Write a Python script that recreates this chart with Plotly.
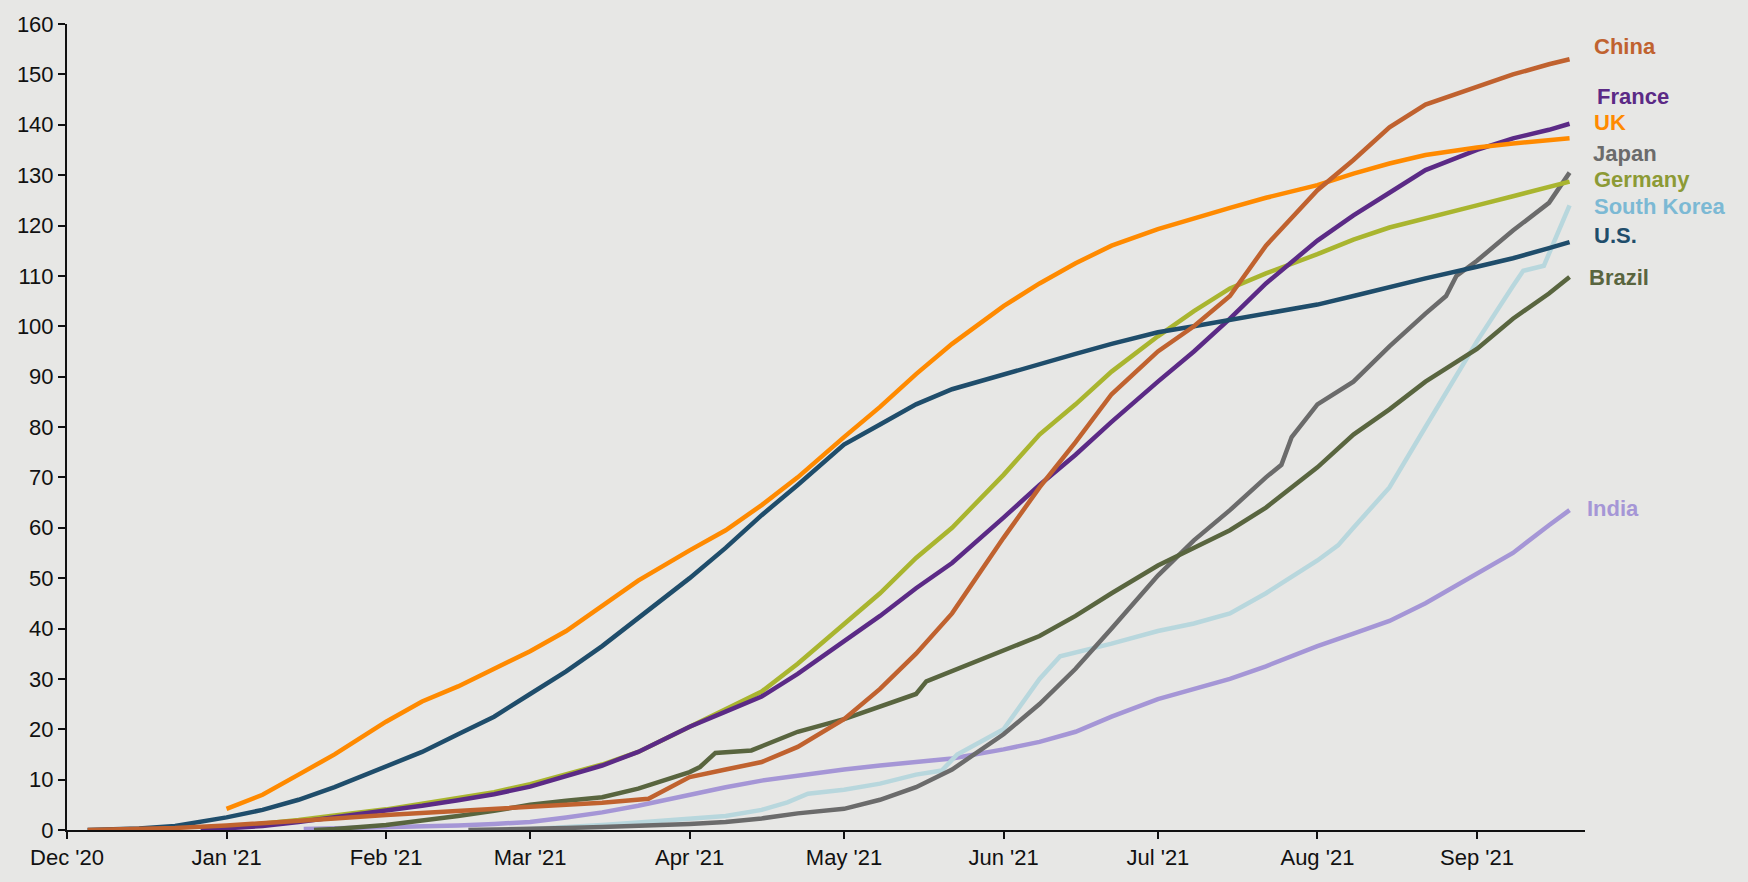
import plotly.graph_objects as go

# ---------------- data (doses administered per 100 people, estimated) ----------------
uk_dates = ["2021-01-01","2021-01-08","2021-01-15","2021-01-22","2021-02-01","2021-02-08","2021-02-15","2021-02-22",
            "2021-03-01","2021-03-08","2021-03-15","2021-03-22","2021-04-01","2021-04-08","2021-04-15","2021-04-22",
            "2021-05-01","2021-05-08","2021-05-15","2021-05-22","2021-06-01","2021-06-08","2021-06-15","2021-06-22",
            "2021-07-01","2021-07-08","2021-07-15","2021-07-22","2021-08-01","2021-08-08","2021-08-15","2021-08-22",
            "2021-09-01","2021-09-08","2021-09-15","2021-09-19"]
uk_values = [4.2, 7.0, 11.0, 15.0, 21.5, 25.5, 28.5, 32.0,
             35.5, 39.5, 44.5, 49.5, 55.5, 59.5, 64.5, 70.0,
             78.0, 84.0, 90.5, 96.5, 104.0, 108.5, 112.5, 116.0,
             119.3, 121.5, 123.5, 125.5, 128.0, 130.3, 132.3, 134.0,
             135.5, 136.3, 137.0, 137.3]

us_dates = ["2020-12-05","2020-12-08","2020-12-15","2020-12-22","2021-01-01","2021-01-08","2021-01-15","2021-01-22",
            "2021-02-01","2021-02-08","2021-02-15","2021-02-22","2021-03-01","2021-03-08","2021-03-15","2021-03-22",
            "2021-04-01","2021-04-08","2021-04-15","2021-04-22","2021-05-01","2021-05-08","2021-05-15","2021-05-22",
            "2021-06-01","2021-06-08","2021-06-15","2021-06-22","2021-07-01","2021-07-08","2021-07-15","2021-07-22",
            "2021-08-01","2021-08-08","2021-08-15","2021-08-22","2021-09-01","2021-09-08","2021-09-15","2021-09-19"]
us_values = [0.0, 0.1, 0.3, 0.8, 2.5, 4.0, 6.0, 8.5,
             12.5, 15.5, 19.0, 22.5, 27.0, 31.5, 36.5, 42.0,
             50.0, 56.0, 62.5, 68.5, 76.5, 80.5, 84.5, 87.5,
             90.5, 92.5, 94.5, 96.5, 98.8, 100.0, 101.2, 102.5,
             104.3, 106.0, 107.8, 109.5, 111.8, 113.5, 115.5, 116.7]

china_dates = ["2020-12-05","2020-12-15","2020-12-22","2021-01-01","2021-01-08","2021-01-15","2021-01-22",
               "2021-02-01","2021-02-08","2021-02-15","2021-02-22","2021-03-01","2021-03-08","2021-03-15","2021-03-24",
               "2021-04-01","2021-04-08","2021-04-15","2021-04-22","2021-05-01","2021-05-08","2021-05-15","2021-05-22",
               "2021-06-01","2021-06-08","2021-06-15","2021-06-22","2021-07-01","2021-07-08","2021-07-15","2021-07-22",
               "2021-08-01","2021-08-08","2021-08-15","2021-08-22","2021-09-01","2021-09-08","2021-09-15","2021-09-19"]
china_values = [0.0, 0.2, 0.4, 0.9, 1.3, 1.8, 2.3,
                3.0, 3.4, 3.8, 4.2, 4.6, 5.0, 5.4, 6.2,
                10.5, 12.0, 13.5, 16.5, 22.0, 28.0, 35.0, 43.0,
                58.0, 68.0, 77.0, 86.5, 95.0, 100.0, 106.0, 116.0,
                127.0, 133.0, 139.5, 144.0, 147.5, 150.0, 152.0, 153.0]

france_dates = ["2020-12-27","2021-01-01","2021-01-08","2021-01-15","2021-01-22","2021-02-01","2021-02-08","2021-02-15","2021-02-22",
                "2021-03-01","2021-03-08","2021-03-15","2021-03-22","2021-04-01","2021-04-08","2021-04-15","2021-04-22",
                "2021-05-01","2021-05-08","2021-05-15","2021-05-22","2021-06-01","2021-06-08","2021-06-15","2021-06-22",
                "2021-07-01","2021-07-08","2021-07-15","2021-07-22","2021-08-01","2021-08-08","2021-08-15","2021-08-22",
                "2021-09-01","2021-09-08","2021-09-15","2021-09-19"]
france_values = [0.0, 0.3, 0.8, 1.6, 2.5, 3.7, 4.8, 5.9, 7.1,
                 8.6, 10.6, 12.8, 15.5, 20.5, 23.5, 26.5, 31.0,
                 37.5, 42.5, 48.0, 53.0, 62.0, 68.5, 74.5, 81.0,
                 89.0, 95.0, 101.5, 108.5, 117.0, 122.0, 126.5, 131.0,
                 135.0, 137.3, 139.0, 140.2]

germany_dates = france_dates
germany_values = [0.0, 0.5, 1.2, 2.0, 2.9, 4.1, 5.2, 6.3, 7.5,
                  9.1, 11.0, 13.0, 15.5, 20.5, 24.0, 27.5, 33.0,
                  41.0, 47.0, 54.0, 60.0, 70.5, 78.5, 84.5, 91.0,
                  98.0, 103.0, 107.5, 110.5, 114.3, 117.2, 119.6, 121.5,
                  124.0, 125.8, 127.7, 128.7]

japan_dates = ["2021-02-17","2021-02-22","2021-03-01","2021-03-08","2021-03-15","2021-03-22","2021-04-01","2021-04-08",
               "2021-04-15","2021-04-22","2021-05-01","2021-05-08","2021-05-15","2021-05-22","2021-06-01","2021-06-08",
               "2021-06-15","2021-06-22","2021-07-01","2021-07-08","2021-07-15","2021-07-22","2021-07-25","2021-07-27",
               "2021-08-01","2021-08-08","2021-08-15","2021-08-22","2021-08-26","2021-08-28","2021-09-01","2021-09-08",
               "2021-09-15","2021-09-19"]
japan_values = [0.0, 0.05, 0.2, 0.4, 0.6, 0.8, 1.2, 1.6,
                2.3, 3.3, 4.2, 6.0, 8.5, 12.0, 19.0, 25.0,
                32.0, 40.0, 50.5, 57.5, 63.5, 70.0, 72.5, 78.0,
                84.5, 89.0, 96.0, 102.5, 106.0, 110.0, 113.0, 119.0,
                124.5, 130.5]

korea_dates = ["2021-02-26","2021-03-08","2021-03-15","2021-03-22","2021-04-01","2021-04-08","2021-04-15","2021-04-20",
               "2021-04-24","2021-05-01","2021-05-08","2021-05-15","2021-05-20","2021-05-23","2021-06-01","2021-06-08",
               "2021-06-12","2021-06-22","2021-07-01","2021-07-08","2021-07-15","2021-07-22","2021-08-01","2021-08-05",
               "2021-08-08","2021-08-15","2021-08-22","2021-09-01","2021-09-08","2021-09-10","2021-09-14","2021-09-19"]
korea_values = [0.0, 0.5, 1.0, 1.5, 2.2, 2.8, 4.0, 5.5,
                7.2, 8.0, 9.2, 11.0, 11.8, 15.0, 20.0, 30.0,
                34.5, 37.0, 39.5, 41.0, 43.0, 47.0, 53.5, 56.5,
                60.0, 68.0, 80.0, 97.0, 108.0, 111.0, 112.0, 124.0]

brazil_dates = ["2021-01-18","2021-01-22","2021-02-01","2021-02-08","2021-02-15","2021-02-22","2021-03-01","2021-03-08",
                "2021-03-15","2021-03-22","2021-04-01","2021-04-03","2021-04-06","2021-04-13","2021-04-22","2021-05-01",
                "2021-05-08","2021-05-15","2021-05-17","2021-05-22","2021-06-01","2021-06-08","2021-06-15","2021-06-22",
                "2021-07-01","2021-07-08","2021-07-15","2021-07-22","2021-08-01","2021-08-08","2021-08-15","2021-08-22",
                "2021-09-01","2021-09-08","2021-09-15","2021-09-19"]
brazil_values = [0.0, 0.2, 1.0, 1.8, 2.8, 3.8, 5.0, 5.8,
                 6.5, 8.2, 11.5, 12.5, 15.3, 15.8, 19.5, 22.0,
                 24.5, 27.0, 29.5, 31.5, 35.5, 38.5, 42.5, 47.0,
                 52.5, 56.0, 59.5, 64.0, 72.0, 78.5, 83.5, 89.0,
                 95.5, 101.5, 106.5, 109.8]

india_dates = ["2021-01-16","2021-01-22","2021-02-01","2021-02-08","2021-02-15","2021-02-22","2021-03-01","2021-03-08",
               "2021-03-15","2021-03-22","2021-04-01","2021-04-08","2021-04-15","2021-04-22","2021-05-01","2021-05-08",
               "2021-05-15","2021-05-22","2021-06-01","2021-06-08","2021-06-15","2021-06-22","2021-07-01","2021-07-08",
               "2021-07-15","2021-07-22","2021-08-01","2021-08-08","2021-08-15","2021-08-22","2021-09-01","2021-09-08",
               "2021-09-15","2021-09-19"]
india_values = [0.2, 0.3, 0.5, 0.7, 0.9, 1.2, 1.6, 2.5,
                3.5, 4.8, 7.0, 8.5, 9.8, 10.8, 12.0, 12.8,
                13.5, 14.2, 16.0, 17.5, 19.5, 22.5, 26.0, 28.0,
                30.0, 32.5, 36.5, 39.0, 41.5, 45.0, 51.0, 55.0,
                60.5, 63.5]

y_ticks = [0, 10, 20, 30, 40, 50, 60, 70, 80, 90, 100, 110, 120, 130, 140, 150, 160]

# ---------------- styling ----------------
series = [
    # name, dates, values, line colour, label colour, label y (data), label x offset px
    ("India", india_dates, india_values, "#a596d6", "#a596d6", 63.8, 0),
    ("South Korea", korea_dates, korea_values, "#b8d7dd", "#7cb9d4", 123.8, 7),
    ("Japan", japan_dates, japan_values, "#6b6b6b", "#6b6b6b", 134.2, 6),
    ("Brazil", brazil_dates, brazil_values, "#59653f", "#59653f", 109.6, 2),
    ("Germany", germany_dates, germany_values, "#a9b52f", "#8c9a35", 129.1, 7),
    ("France", france_dates, france_values, "#5b2a86", "#5b2a86", 145.7, 10),
    ("U.S.", us_dates, us_values, "#1f4d6b", "#1f4d6b", 118.0, 7),
    ("UK", uk_dates, uk_values, "#ff8a00", "#ff8a00", 140.5, 7),
    ("China", china_dates, china_values, "#c0622f", "#c0622f", 155.6, 7),
]

FONT = "Liberation Sans, Arial, sans-serif"
fig = go.Figure()
annotations = []
for name, d, v, lc, tc, ly, dx in series:
    fig.add_trace(go.Scatter(x=d, y=v, mode="lines", name=name,
                             line=dict(color=lc, width=4.5, shape="linear"),
                             showlegend=False, hoverinfo="x+y+name"))
    annotations.append(dict(xref="paper", yref="y", x=1.0, y=ly, xanchor="left", yanchor="middle",
                            xshift=dx, text="<b>%s</b>" % name, showarrow=False,
                            font=dict(family=FONT, size=22, color=tc)))

bg = "#e7e7e5"
fig.update_layout(
    width=1748, height=882,
    paper_bgcolor=bg, plot_bgcolor=bg,
    margin=dict(l=67, r=163, t=17, b=48),
    annotations=annotations,
    font=dict(family=FONT, size=22, color="#111111"),
)
fig.update_xaxes(
    type="date", range=["2020-12-01", "2021-09-22"],
    dtick="M1", tick0="2020-12-01", tickformat="%b '%y",
    showgrid=False, zeroline=False,
    showline=True, linecolor="#111111", linewidth=2,
    ticks="outside", ticklen=7, tickwidth=2, tickcolor="#111111",
    tickfont=dict(family=FONT, size=22, color="#111111"),
)
fig.update_yaxes(
    range=[0, 160], tickvals=y_ticks,
    showgrid=False, zeroline=False,
    showline=True, linecolor="#111111", linewidth=2,
    ticks="outside", ticklen=7, tickwidth=2, tickcolor="#111111",
    tickfont=dict(family=FONT, size=22, color="#111111"),
)

fig.write_html(
    "out.html",
    config={"displayModeBar": False},
    post_script="document.body.style.margin='0';document.body.style.background='#e7e7e5';document.body.style.overflow='hidden';",
)
